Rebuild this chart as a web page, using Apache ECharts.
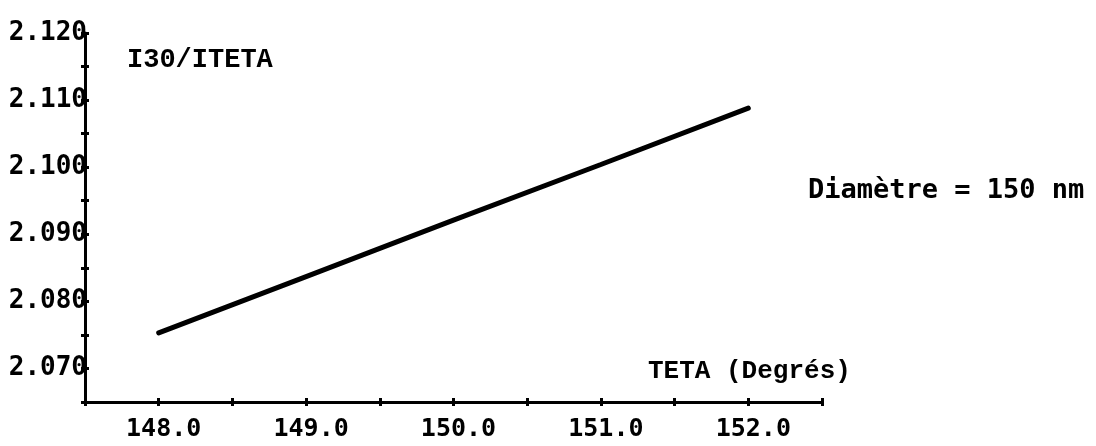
<!DOCTYPE html>
<html>
<head>
<meta charset="utf-8">
<style>
  html, body { margin: 0; padding: 0; background: #fff; }
  #chart { width: 1096px; height: 446px; }
</style>
<script src="https://cdn.jsdelivr.net/npm/echarts@6/dist/echarts.min.js"></script>
</head>
<body>
<div id="chart"></div>
<script>
// Scattering intensity ratio I30/ITETA versus angle TETA, diameter 150 nm
const teta = [148.0, 149.0, 150.0, 151.0, 152.0];
const ratio = [2.0753, 2.0837, 2.0921, 2.1004, 2.1088];

const xLabels = ['148.0', '149.0', '150.0', '151.0', '152.0'];
const yLabels = ['2.070', '2.080', '2.090', '2.100', '2.110', '2.120'];

const labelFont = '"DejaVu Sans Mono", monospace';
const typeFont = '"Liberation Mono", "Courier New", monospace';

const chart = echarts.init(document.getElementById('chart'), null, { renderer: 'canvas' });

const tickStyle = { show: true, length: 4, lineStyle: { color: '#000', width: 3 } };

function xFmt(v) {
  const s = v.toFixed(1);
  return xLabels.indexOf(s) >= 0 ? s : '';
}
function yFmt(v) {
  const s = v.toFixed(3);
  return yLabels.indexOf(s) >= 0 ? s : '';
}

chart.setOption({
  animation: false,
  backgroundColor: '#fff',
  grid: { left: 85, right: 274, top: 33, bottom: 44 },
  xAxis: [
    {
      type: 'value', min: 147.5, max: 152.5, interval: 0.5,
      axisLine: { show: true, onZero: false, lineStyle: { color: '#000', width: 3 } },
      axisTick: Object.assign({ inside: false }, tickStyle),
      splitLine: { show: false },
      axisLabel: {
        formatter: xFmt, showMinLabel: true, showMaxLabel: true,
        color: '#000', fontFamily: labelFont, fontSize: 25, fontWeight: 'bold',
        margin: 15, padding: [0, 0, 0, 10]
      }
    },
    {
      type: 'value', min: 147.5, max: 152.5, interval: 0.5, position: 'bottom',
      axisLine: { show: false },
      axisTick: Object.assign({ inside: true }, tickStyle),
      splitLine: { show: false }, axisLabel: { show: false }
    }
  ],
  yAxis: [
    {
      type: 'value', min: 2.065, max: 2.120, interval: 0.005,
      axisLine: { show: true, onZero: false, lineStyle: { color: '#000', width: 3 } },
      axisTick: Object.assign({ inside: false }, tickStyle),
      splitLine: { show: false },
      axisLabel: {
        formatter: yFmt, showMinLabel: true, showMaxLabel: true,
        color: '#000', fontFamily: labelFont, fontSize: 26, fontWeight: 'bold',
        margin: -2, padding: [0, 0, 14, 0]
      }
    },
    {
      type: 'value', min: 2.065, max: 2.120, interval: 0.005, position: 'left',
      axisLine: { show: false },
      axisTick: Object.assign({ inside: true }, tickStyle),
      splitLine: { show: false }, axisLabel: { show: false }
    }
  ],
  series: [{
    type: 'line',
    xAxisIndex: 0, yAxisIndex: 0,
    data: teta.map((t, i) => [t, ratio[i]]),
    showSymbol: false, symbol: 'none',
    lineStyle: { color: '#000', width: 5, cap: 'round' }
  }],
  graphic: [
    {
      type: 'text', left: 127, top: 47,
      style: { text: 'I30/ITETA', fill: '#000', font: 'bold 27px ' + typeFont }
    },
    {
      type: 'text', left: 808, top: 177,
      style: { text: 'Diamètre = 150 nm', fill: '#000', font: 'bold 27px ' + labelFont }
    },
    {
      type: 'text', left: 648, top: 358,
      style: { text: 'TETA (Degrés)', fill: '#000', font: 'bold 26px ' + typeFont }
    }
  ]
});
</script>
</body>
</html>
